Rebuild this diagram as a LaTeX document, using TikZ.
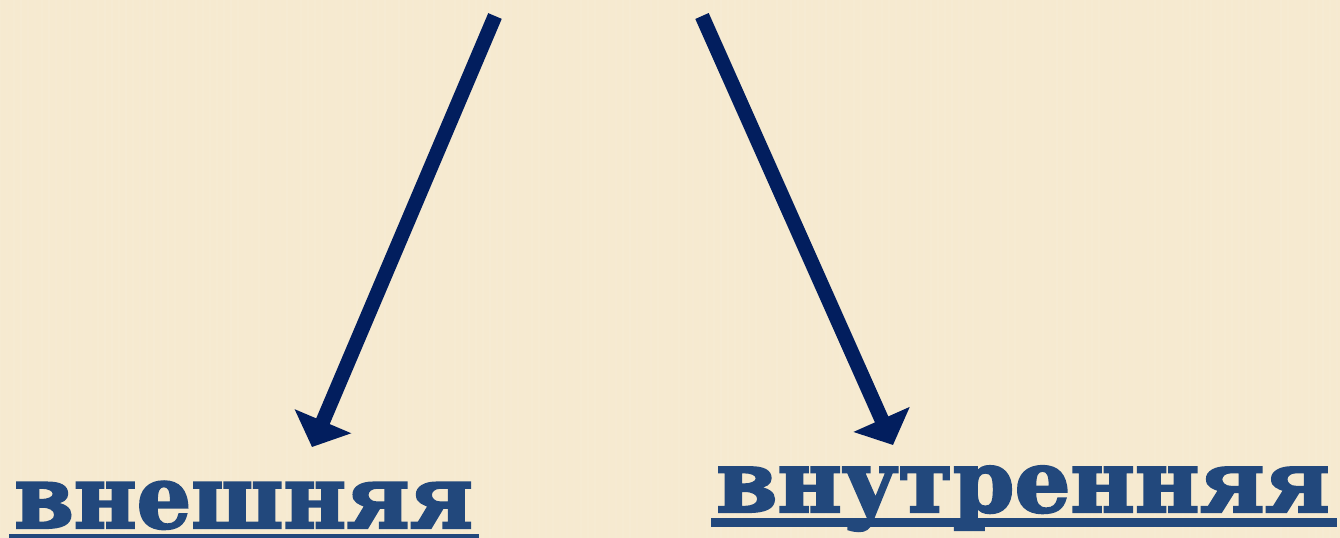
\documentclass[tikz,border=0pt]{standalone}
\usepackage{fontspec}
\setmainfont{DejaVu Serif}
\newfontfamily\heavyfont{DejaVu Serif Bold}[FakeBold=2.5]
\usetikzlibrary{arrows.meta}
\definecolor{bg}{RGB}{246,234,208}
\definecolor{arrowblue}{RGB}{2,30,94}
\definecolor{textblue}{RGB}{34,72,124}
\tikzset{
  arr/.style={draw=arrowblue, line width=11pt, line cap=butt,
    -{Triangle[length=21pt,width=45pt]}},
  word/.style={anchor=base west, inner sep=0pt, text=textblue,
    font=\heavyfont\fontsize{70}{70}\selectfont},
  uline/.style={fill=textblue}
}
\begin{document}
\begin{tikzpicture}[x=0.75pt,y=-0.75pt]
\fill[bg] (0,0) rectangle (1340,538);
\useasboundingbox (0,0) rectangle (1340,538);
% faint vertical texture
\foreach \i in {0,7,...,1340}{
  \pgfmathsetmacro{\op}{0.03+0.04*rnd}
  \draw[white, opacity=\op, line width=1.5pt] (\i,0) -- (\i,538);
}
\coordinate (s1) at (495,16);
\coordinate (e1) at (312,447);
\coordinate (s2) at (702,16);
\coordinate (e2) at (893,445);
\draw[arr] (s1) -- (e1);
\draw[arr] (s2) -- (e2);
\node[word] (w1) at (14,528) {\resizebox{344pt}{35pt}{внешняя}};
\node[word] (w2) at (716,512) {\resizebox{460pt}{34.5pt}{внутренняя}};
\fill[uline] (9,534) rectangle (479,538);
\fill[uline] (711,518) rectangle (1337,527);
\end{tikzpicture}
\end{document}
